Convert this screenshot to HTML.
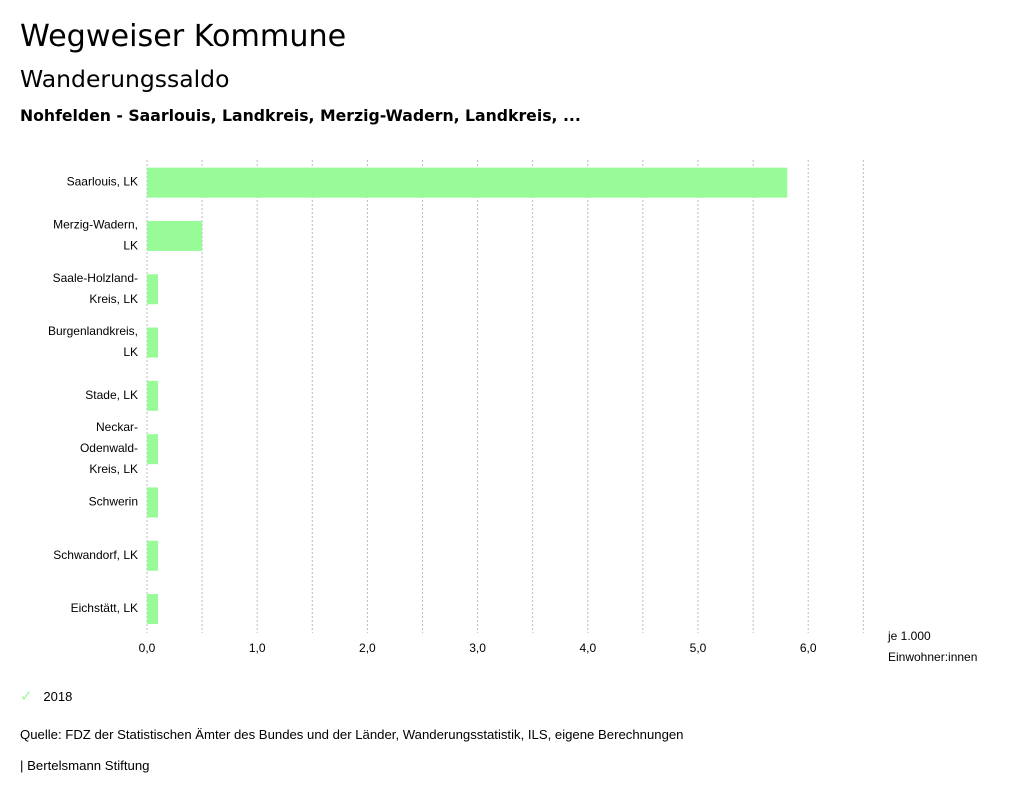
<!DOCTYPE html>
<html><head><meta charset="utf-8">
<style>
body{margin:0;background:#fff;width:1024px;height:798px;overflow:hidden;font-family:"Liberation Sans","DejaVu Sans",sans-serif;color:#000}
.t{position:absolute;white-space:nowrap}
</style></head><body>
<div class="t" style="left:20px;top:19px;font-size:30.2px;font-family:'DejaVu Sans',sans-serif">Wegweiser Kommune</div>
<div class="t" style="left:20px;top:65px;font-size:23.5px;font-family:'DejaVu Sans',sans-serif">Wanderungssaldo</div>
<div class="t" style="left:20px;top:106px;font-size:15.7px;font-weight:bold;font-family:'DejaVu Sans',sans-serif">Nohfelden - Saarlouis, Landkreis, Merzig-Wadern, Landkreis, ...</div>
<svg id="c" width="1024" height="798" style="position:absolute;left:0;top:0"></svg>
<div class="t" style="left:20px;top:687px;font-size:13px"><span style="color:#98fb98;font-size:15px">✓</span>&nbsp;&nbsp;&nbsp;2018</div>
<div class="t" style="left:20px;top:727px;font-size:13.15px">Quelle: FDZ der Statistischen Ämter des Bundes und der Länder, Wanderungsstatistik, ILS, eigene Berechnungen</div>
<div class="t" style="left:20px;top:758px;font-size:13.2px">| Bertelsmann Stiftung</div>
<script>
const categories=[["Saarlouis, LK"],["Merzig-Wadern,","LK"],["Saale-Holzland-","Kreis, LK"],["Burgenlandkreis,","LK"],["Stade, LK"],["Neckar-","Odenwald-","Kreis, LK"],["Schwerin"],["Schwandorf, LK"],["Eichstätt, LK"]];
const values=[5.81,0.5,0.1,0.1,0.1,0.1,0.1,0.1,0.1];
const ticks=[0,1,2,3,4,5,6];
const tickLabels=["0,0","1,0","2,0","3,0","4,0","5,0","6,0"];
const svg=document.getElementById('c');
const NS='http://www.w3.org/2000/svg';
const x0=147,pxPer=110.2,yTop=156,rowH=53.3,barH=30;
const X=v=>x0+v*pxPer;
const Y=i=>yTop+rowH*i+rowH/2;
function mk(t,a){const e=document.createElementNS(NS,t);for(const k in a)e.setAttribute(k,a[k]);svg.appendChild(e);return e;}
for(let g=0;g<=6.5;g+=0.5){
 const l=mk('line',{x1:X(g),x2:X(g),y1:160,y2:633,stroke:'#bbb','stroke-dasharray':'2,2','stroke-width':1});
 
 
}
ticks.forEach((t,i)=>{
 const e=mk('text',{x:X(t),y:652,'text-anchor':'middle','font-size':12,'font-family':'Liberation Sans, sans-serif'});
 e.textContent=tickLabels[i];
 
 
});
values.forEach((v,i)=>{
 const r=mk('rect',{x:X(0),y:Y(i)-barH/2,width:X(v)-X(0),height:barH,fill:'#98fb98'});
 
 
 const lines=categories[i];
 lines.forEach((s,j)=>{
  const e=mk('text',{x:138,y:Y(i)+3+(j-(lines.length-1)/2)*21,'text-anchor':'end','font-size':12,'font-family':'Liberation Sans, sans-serif'});
  e.textContent=s;
  
  
 });
});
[["je 1.000",640],["Einwohner:innen",661]].forEach(([s,y])=>{
 const e=mk('text',{x:888,y:y,'font-size':12,'font-family':'Liberation Sans, sans-serif'});
 e.textContent=s;
 
 
});
</script>
</body></html>
